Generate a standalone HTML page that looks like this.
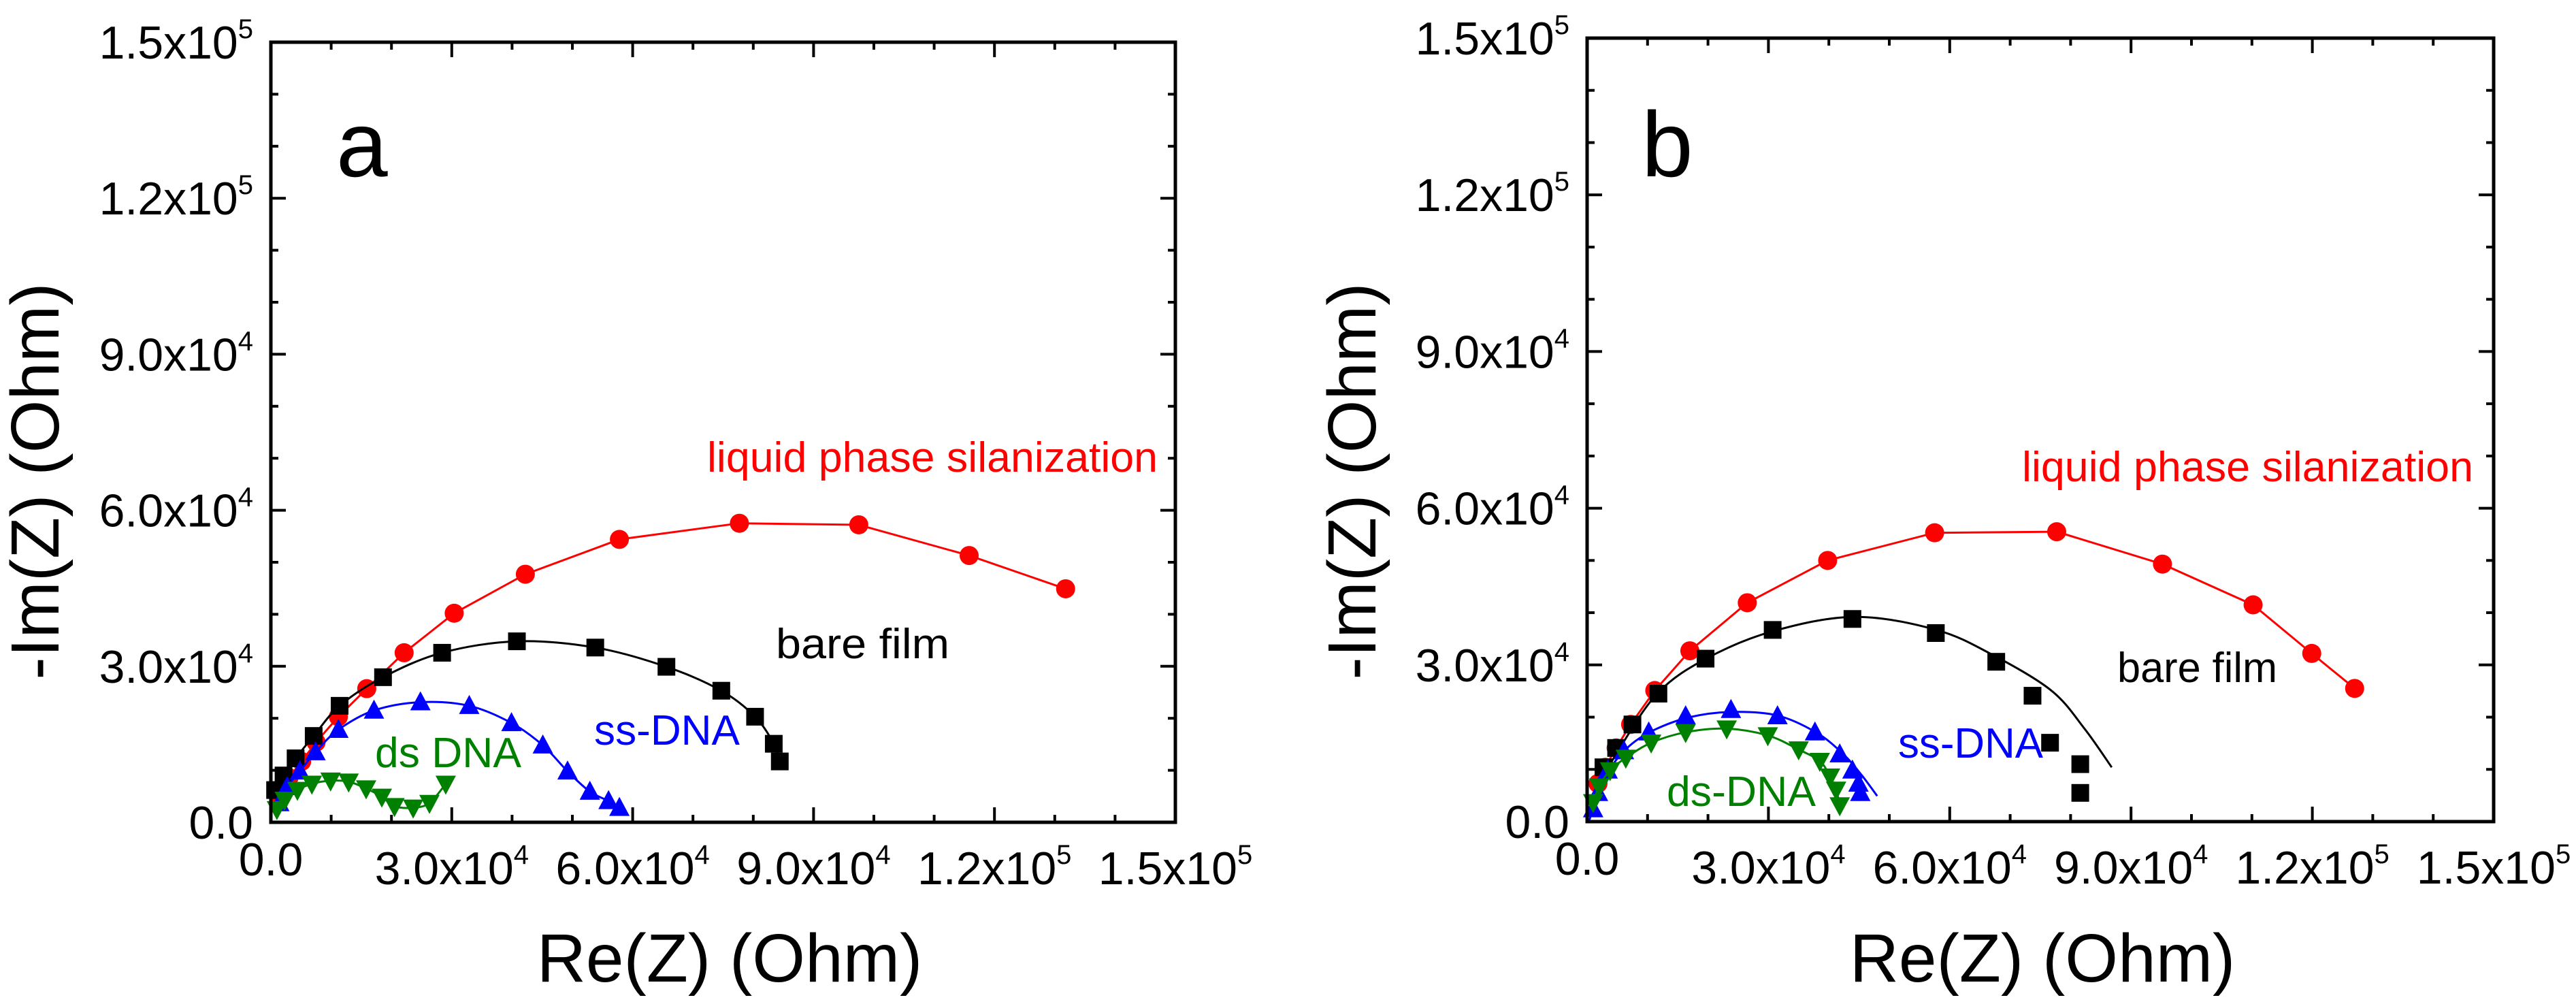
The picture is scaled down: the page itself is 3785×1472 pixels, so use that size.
<!DOCTYPE html>
<html>
<head>
<meta charset="utf-8">
<style>
html,body{margin:0;padding:0;background:#fff;}
svg{display:block;}
text{font-family:"Liberation Sans",Arial,sans-serif;}
</style>
</head>
<body>
<svg id="chart" width="3785" height="1472" viewBox="0 0 3785 1472" xmlns="http://www.w3.org/2000/svg">
<rect x="0" y="0" width="3785" height="1472" fill="#fff"/>
</svg>
<script>
// ---- axis data ----
const tickValues = [0, 30000, 60000, 90000, 120000, 150000];
const tickMant = ["0.0", "3.0", "6.0", "9.0", "1.2", "1.5"];
const tickExp = ["", "4", "4", "4", "5", "5"];
const minorStep = 10000;
const axisMax = 150000;

// ---- panel a data ----
const aRedX = [1400, 3000, 5100, 7500, 11200, 15900, 22100, 30400, 42200, 57800, 77700, 97500, 115800, 131800];
const aRedY = [4900, 8600, 11700, 15400, 20300, 25700, 32600, 40200, 47700, 54400, 57500, 57200, 51300, 44900];
const aBlackX = [700, 2100, 4100, 7100, 11400, 18600, 28400, 40800, 53800, 65600, 74700, 80300, 83400, 84400];
const aBlackY = [6200, 9000, 12300, 16600, 22400, 27900, 32600, 34800, 33600, 29900, 25300, 20300, 15100, 11700];
const aBlueX = [1400, 2700, 4800, 7400, 11200, 17100, 24800, 32900, 39900, 45100, 49200, 52900, 56000, 57800];
const aBlueY = [3700, 6800, 9800, 13500, 17800, 21500, 23100, 22400, 19100, 14800, 9800, 5900, 4100, 2800];
const aGreenX = [1000, 2300, 4400, 6800, 9900, 12900, 15800, 18400, 20500, 23600, 26300, 29000];
const aGreenY = [2500, 4300, 6200, 7400, 8000, 7800, 6500, 4900, 3100, 2800, 3700, 7400];

// ---- panel b data ----
const bRedX = [1800, 3000, 4800, 7200, 11200, 17000, 26500, 39800, 57500, 77700, 95200, 110200, 119900, 127000];
const bRedY = [7300, 10400, 14100, 18600, 25100, 32700, 41900, 50000, 55300, 55500, 49300, 41500, 32200, 25500];
const bBlackX = [2700, 4800, 7500, 11800, 19600, 30700, 43900, 57700, 67700, 73700, 76600, 81600, 81600];
const bBlackY = [10400, 14100, 18600, 24500, 31200, 36700, 38800, 36100, 30600, 24100, 15100, 11000, 5500];
const bBlackFitX = [700, 4800, 11600, 19700, 30600, 44200, 57800, 67300, 76800, 82300, 86800];
const bBlackFitY = [4300, 12900, 24500, 31200, 36400, 39200, 36700, 31800, 25100, 17800, 10400];
const bBlueX = [1000, 1800, 3400, 6100, 10200, 16300, 23800, 31500, 37700, 41800, 43900, 44900, 45200];
const bBlueY = [2400, 5500, 9800, 13500, 17100, 20200, 21400, 20200, 17100, 12900, 9800, 7300, 5500];
const bBlueFitX = [300, 1800, 4000, 7000, 11000, 17000, 24000, 31500, 38000, 42500, 45500, 48000];
const bBlueFitY = [0, 5500, 10500, 14500, 17500, 20000, 21000, 20300, 17000, 12800, 8800, 4900];
const bGreenX = [1000, 2000, 3800, 6400, 10600, 16300, 23100, 29900, 35000, 38500, 40200, 41200, 41800];
const bGreenY = [3700, 6700, 9800, 12200, 15100, 17100, 17800, 16500, 13800, 11600, 8600, 6100, 3100];

const NS = "http://www.w3.org/2000/svg";
const svg = document.getElementById("chart");
function mk(tag, attrs, parent) {
  const e = document.createElementNS(NS, tag);
  for (const k in attrs) e.setAttribute(k, attrs[k]);
  (parent || svg).appendChild(e);
  return e;
}

function smoothPath(xs, ys, sx, sy) {
  const p = xs.map((x, i) => [sx(x), sy(ys[i])]);
  let d = "M" + p[0][0].toFixed(1) + "," + p[0][1].toFixed(1);
  for (let i = 0; i < p.length - 1; i++) {
    const p0 = p[i - 1] || p[i], p1 = p[i], p2 = p[i + 1], p3 = p[i + 2] || p2;
    const c1x = p1[0] + (p2[0] - p0[0]) / 6, c1y = p1[1] + (p2[1] - p0[1]) / 6;
    const c2x = p2[0] - (p3[0] - p1[0]) / 6, c2y = p2[1] - (p3[1] - p1[1]) / 6;
    d += " C" + c1x.toFixed(1) + "," + c1y.toFixed(1) + " " + c2x.toFixed(1) + "," + c2y.toFixed(1) + " " + p2[0].toFixed(1) + "," + p2[1].toFixed(1);
  }
  return d;
}
function linePath(xs, ys, sx, sy) {
  return xs.map((x, i) => (i ? "L" : "M") + sx(x).toFixed(1) + "," + sy(ys[i]).toFixed(1)).join(" ");
}

function marker(g, shape, cx, cy, color) {
  let m;
  if (shape === "circle") m = mk("circle", {cx: cx, cy: cy, r: 14, fill: color}, g);
  else if (shape === "square") m = mk("rect", {x: cx - 13, y: cy - 13, width: 26, height: 26, fill: color}, g);
  else if (shape === "up") m = mk("polygon", {points: (cx) + "," + (cy - 16) + " " + (cx + 15) + "," + (cy + 12) + " " + (cx - 15) + "," + (cy + 12), fill: color}, g);
  else m = mk("polygon", {points: (cx) + "," + (cy + 16) + " " + (cx + 15) + "," + (cy - 12) + " " + (cx - 15) + "," + (cy - 12), fill: color}, g);
  return m;
}

function drawPanel(cfg) {
  const L = cfg.left, R = cfg.right, T = cfg.top, B = cfg.bottom;
  const sx = v => L + (v / axisMax) * (R - L);
  const sy = v => B - (v / axisMax) * (B - T);
  const panel = mk("g", {});
  
  

  cfg.series.forEach(s => {
    const g = mk("g", {}, panel);
    
    
    const lx = s.fitX || s.xs, ly = s.fitY || s.ys;
    const d = s.straight ? linePath(lx, ly, sx, sy) : smoothPath(lx, ly, sx, sy);
    const line = mk("path", {d: d, fill: "none", stroke: s.color, "stroke-width": 3}, g);
    
    
    s.xs.forEach((x, i) => {
      const m = marker(g, s.shape, sx(x), sy(s.ys[i]), s.color);
      
      
    });
  });

  const frame = mk("rect", {x: L, y: T, width: R - L, height: B - T, fill: "none", stroke: "#000", "stroke-width": 5}, panel);
  
  

  const tg = mk("g", {stroke: "#000", "stroke-width": 4}, panel);
  
  
  for (let v = 0; v <= axisMax; v += minorStep) {
    const major = tickValues.indexOf(v) >= 0;
    const len = major ? 22 : 11;
    const x = sx(v), y = sy(v);
    mk("line", {x1: x, y1: B, x2: x, y2: B - len}, tg);
    mk("line", {x1: x, y1: T, x2: x, y2: T + len}, tg);
    mk("line", {x1: L, y1: y, x2: L + len, y2: y}, tg);
    mk("line", {x1: R, y1: y, x2: R - len, y2: y}, tg);
  }

  tickValues.forEach((v, i) => {
    const xt = mk("text", {x: sx(v), y: v === 0 ? B + 78 : B + 91, "font-size": 68, "text-anchor": "middle", fill: "#000"}, panel);
    
    
    const a1 = mk("tspan", {}, xt); a1.textContent = tickExp[i] ? tickMant[i] + "x10" : tickMant[i];
    if (tickExp[i]) { const a2 = mk("tspan", {dy: -30, "font-size": 40}, xt); a2.textContent = tickExp[i]; }
    const yt = mk("text", {x: L - 26, y: sy(v) + 24, "font-size": 68, "text-anchor": "end", fill: "#000"}, panel);
    
    
    const b1 = mk("tspan", {}, yt); b1.textContent = tickExp[i] ? tickMant[i] + "x10" : tickMant[i];
    if (tickExp[i]) { const b2 = mk("tspan", {dy: -30, "font-size": 40}, yt); b2.textContent = tickExp[i]; }
  });

  const xtitle = mk("text", {x: cfg.xTitleX, y: 1442, "font-size": 100, "text-anchor": "middle", fill: "#000"}, panel);
  
  
  xtitle.textContent = "Re(Z) (Ohm)";
  const ytitle = mk("text", {x: 0, y: 0, "font-size": 100, "text-anchor": "middle", fill: "#000", transform: "translate(" + cfg.yTitleX + ",707) rotate(-90)"}, panel);
  
  
  ytitle.textContent = "-Im(Z) (Ohm)";

  const pl = mk("text", {x: cfg.letterX, y: 259, "font-size": 136, fill: "#000"}, panel);
  
  
  pl.textContent = cfg.letter;

  cfg.notes.forEach(n => {
    const t = mk("text", {x: n.x, y: n.y, "font-size": 62, fill: n.color, textLength: n.w, lengthAdjust: "spacingAndGlyphs"}, panel);
    
    
    t.textContent = n.text;
  });
}

drawPanel({
  name: "panel-a", letter: "a", letterX: 494,
  left: 398, right: 1727, top: 62, bottom: 1208,
  xTitleX: 1072, yTitleX: 86,
  series: [
    {name: "series-liquid-phase-silanization", xs: aRedX, ys: aRedY, color: "#ff0000", shape: "circle", straight: true},
    {name: "series-bare-film", xs: aBlackX, ys: aBlackY, color: "#000000", shape: "square"},
    {name: "series-ss-dna", xs: aBlueX, ys: aBlueY, color: "#0000ff", shape: "up"},
    {name: "series-ds-dna", xs: aGreenX, ys: aGreenY, color: "#008000", shape: "down"}
  ],
  notes: [
    {name: "label-liquid-phase-silanization", text: "liquid phase silanization", x: 1039, y: 693, w: 662, color: "#ff0000"},
    {name: "label-bare-film", text: "bare  film", x: 1140, y: 967, w: 255, color: "#000000"},
    {name: "label-ss-dna", text: "ss-DNA", x: 873, y: 1094, w: 214, color: "#0000ff"},
    {name: "label-ds-dna", text: "ds DNA", x: 551, y: 1127, w: 215, color: "#008000"}
  ]
});

drawPanel({
  name: "panel-b", letter: "b", letterX: 2412,
  left: 2332, right: 3664, top: 56, bottom: 1207,
  xTitleX: 3001, yTitleX: 2021,
  series: [
    {name: "series-liquid-phase-silanization", xs: bRedX, ys: bRedY, color: "#ff0000", shape: "circle", straight: true},
    {name: "series-bare-film", xs: bBlackX, ys: bBlackY, fitX: bBlackFitX, fitY: bBlackFitY, color: "#000000", shape: "square"},
    {name: "series-ss-dna", xs: bBlueX, ys: bBlueY, fitX: bBlueFitX, fitY: bBlueFitY, color: "#0000ff", shape: "up"},
    {name: "series-ds-dna", xs: bGreenX, ys: bGreenY, color: "#008000", shape: "down"}
  ],
  notes: [
    {name: "label-liquid-phase-silanization", text: "liquid phase silanization", x: 2971, y: 707, w: 663, color: "#ff0000"},
    {name: "label-bare-film", text: "bare film", x: 3111, y: 1002, w: 235, color: "#000000"},
    {name: "label-ss-dna", text: "ss-DNA", x: 2789, y: 1113, w: 213, color: "#0000ff"},
    {name: "label-ds-dna", text: "ds-DNA", x: 2449, y: 1184, w: 219, color: "#008000"}
  ]
});
</script>
</body>
</html>
